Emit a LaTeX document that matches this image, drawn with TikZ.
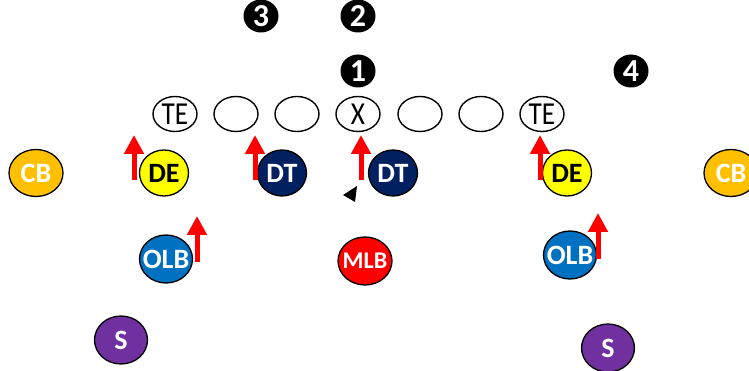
\documentclass[tikz,border=0pt]{standalone}
\usepackage{fontspec}
\setmainfont{Carlito}
\newfontfamily\narrowfont[FakeStretch=0.85]{Carlito}
\usetikzlibrary{arrows.meta,shapes.geometric}
\definecolor{cbgold}{HTML}{FFC000}
\definecolor{deyellow}{HTML}{FFFF00}
\definecolor{dtnavy}{HTML}{002060}
\definecolor{olbblue}{HTML}{0070C0}
\definecolor{mlbred}{HTML}{FF0000}
\definecolor{spurple}{HTML}{7030A0}

\begin{document}
\begin{tikzpicture}[x=1pt,y=-1pt,
    lineman/.style={ellipse,draw,line width=1.4pt,minimum width=44pt,minimum height=35pt,
        inner sep=0pt,font=\narrowfont\fontsize{32}{32}\selectfont},
    defender/.style={ellipse,draw,line width=1.3pt,minimum width=49pt,minimum height=46pt,
        inner sep=-10pt,text=white,font=\fontsize{28}{28}\selectfont\bfseries},
    gap/.style={ellipse,fill=black,minimum width=35pt,minimum height=33pt,inner sep=-10pt,
        text=white,font=\fontsize{32}{32}\selectfont\bfseries},
    rush/.style={red,line width=5pt,-{Triangle[width=19pt,length=19pt]}}]
\useasboundingbox (0,0) rectangle (749,371);

% gaps
\node[gap] (gap3) at (261,16) {3};
\node[gap] (gap2) at (358,16) {2};
\node[gap] (gap1) at (358,71) {1};
\node[gap] (gap4) at (631,71) {4};

% offense
\node[lineman] (te1) at (175,114) {TE};
\node[lineman] (lg1) at (236,114) {};
\node[lineman] (lg2) at (297,114) {};
\node[lineman] (ctr) at (358,114) {X};
\node[lineman] (rg1) at (420,114) {};
\node[lineman] (rg2) at (481,114) {};
\node[lineman] (te2) at (542,114) {TE};

% defense
\node[defender,fill=cbgold,minimum width=54pt,minimum height=47pt] (cb1) at (36,173) {CB};
\node[defender,fill=deyellow,text=black] (de1) at (164,173) {DE};
\node[defender,fill=dtnavy] (dt1) at (282,173) {DT};
\node[defender,fill=dtnavy] (dt2) at (393,173) {DT};
\node[defender,fill=deyellow,text=black] (de2) at (567,173) {DE};
\node[defender,fill=cbgold,minimum width=54pt,minimum height=47pt] (cb2) at (731,173) {CB};
\node[defender,fill=olbblue,minimum width=53pt,minimum height=48pt] (olb1) at (166,259) {OLB};
\node[defender,fill=mlbred,minimum width=54pt,minimum height=48pt,
    font=\fontsize{24}{24}\selectfont\bfseries] (mlb) at (365,261) {MLB};
\node[defender,fill=olbblue,minimum width=53pt,minimum height=48pt] (olb2) at (570,255) {OLB};
\node[defender,fill=spurple,minimum width=53pt,minimum height=48pt] (s1) at (121,340) {S};
\node[defender,fill=spurple,minimum width=53pt,minimum height=48pt] (s2) at (608,348) {S};

% rush arrows
\coordinate (r1) at (134,180);
\coordinate (r2) at (255,180);
\coordinate (r3) at (361,180);
\coordinate (r4) at (540,180);
\coordinate (r5) at (197,262);
\coordinate (r6) at (598,259);
\foreach \r in {r1,r2,r3,r4}
    \draw[rush] (\r) -- ++(0,-45);
\foreach \r in {r5,r6}
    \draw[rush] (\r) -- ++(0,-46);

% snap marker
\fill (343,195) -- (357,186) -- (355,202) -- cycle;
\end{tikzpicture}
\end{document}
